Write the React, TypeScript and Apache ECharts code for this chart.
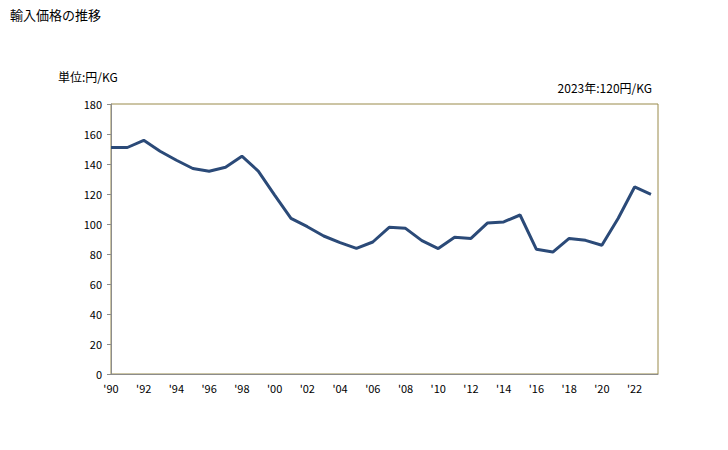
import React, { useEffect, useRef } from "react";
import * as echarts from "echarts";

const years = [1990,1991,1992,1993,1994,1995,1996,1997,1998,1999,2000,2001,2002,2003,2004,2005,2006,2007,2008,2009,2010,2011,2012,2013,2014,2015,2016,2017,2018,2019,2020,2021,2022,2023];
const prices = [151,151,155.8,148.5,142.5,137,135.2,137.8,145.2,135.3,119.3,103.8,98.2,92,87.6,83.8,88,97.8,97.1,88.9,83.6,91.1,90.4,100.6,101.4,106,83.1,81.3,90.4,89.1,85.8,103.8,124.7,119.8];
const yTicks = [0,20,40,60,80,100,120,140,160,180];

const FONT = "'Noto Sans CJK JP', sans-serif";

export default function App() {
  const ref = useRef<HTMLDivElement>(null);
  useEffect(() => {
    const chart = echarts.init(ref.current!, null, { renderer: "svg" });
    chart.setOption({
      animation: false,
      backgroundColor: "#ffffff",
      title: [
        { text: "輸入価格の推移", left: 5, top: 3, textStyle: { fontFamily: FONT, fontSize: 13, fontWeight: "normal", color: "#000" } },
        { text: "単位:円/KG", left: 53, top: 65, textStyle: { fontFamily: FONT, fontSize: 12, fontWeight: "normal", color: "#000" } },
        { text: "2023年:120円/KG", right: 71, top: 76, textStyle: { fontFamily: FONT, fontSize: 12, fontWeight: "normal", color: "#000" } },
      ],
      grid: { left: 111, top: 104, width: 547, height: 270, show: true, borderColor: "#998a4a", borderWidth: 1, backgroundColor: "transparent" },
      xAxis: {
        type: "value",
        min: 1990,
        max: 2023.43,
        interval: 2,
        axisLine: { show: true, onZero: false, lineStyle: { color: "#8c8c8c" } },
        axisTick: { show: false },
        splitLine: { show: false },
        axisLabel: {
          fontFamily: FONT, fontSize: 11, color: "#000", margin: 8,
          showMaxLabel: false,
          formatter: (v: number) => (Number.isInteger(v) && v % 2 === 0 ? "'" + String(v).slice(2) : ""),
        },
      },
      yAxis: {
        type: "value",
        min: yTicks[0],
        max: yTicks[yTicks.length - 1],
        interval: 20,
        axisLine: { show: true, lineStyle: { color: "#8c8c8c" } },
        axisTick: { show: true, length: 4, lineStyle: { color: "#8c8c8c" } },
        splitLine: { show: false },
        axisLabel: { fontFamily: FONT, fontSize: 11, color: "#000", margin: 9 },
      },
      series: [
        {
          type: "line",
          data: years.map((y, i) => [y, prices[i]]),
          symbol: "none",
          lineStyle: { color: "#2b4a78", width: 3 },
        },
      ],
    });
    return () => chart.dispose();
  }, []);
  return <div ref={ref} style={{ position: "absolute", left: 0, top: 0, width: 728, height: 450 }} />;
}
